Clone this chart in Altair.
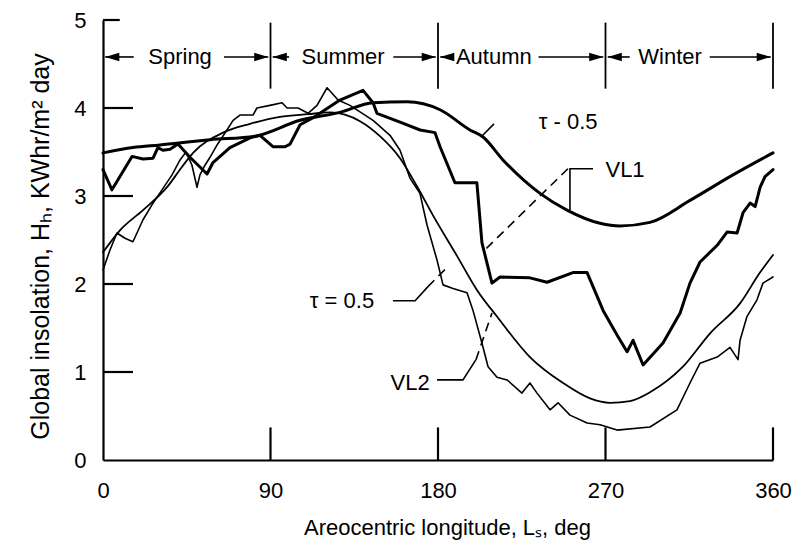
import altair as alt
import pandas as pd

FONT = "Liberation Sans"
BLACK = "#000000"

# ---------------- data (Ls in deg, H in kWhr/m^2 day) ----------------
tau_upper_ls = [0, 16.1, 30.6, 57.5, 81.7, 105.9, 127.3, 145.1, 163.3, 181.1, 197.2, 204.2,
                214.9, 234.8, 249.3, 267.1, 277.8, 293.9, 315.4, 338.5, 360]
tau_upper_h = [3.49, 3.55, 3.58, 3.64, 3.68, 3.86, 3.95, 4.06, 4.07, 3.98, 3.75, 3.67,
               3.41, 3.03, 2.84, 2.69, 2.66, 2.70, 2.95, 3.24, 3.49]

vl1_ls = [0, 4.8, 15.6, 21.5, 26.9, 29.5, 32.2, 36.0, 40.3, 46.7, 52.1, 55.9, 59.1, 68.2, 79.0,
          84.3, 87.0, 91.3, 97.8, 100.5, 105.9, 112.9, 127.3, 139.7, 145.1, 147.2, 159.6, 170.4,
          178.4, 181.1, 189.1, 200.9, 203.6, 209.0, 213.3, 229.4, 238.6, 252.5, 260.1, 263.3,
          268.7, 276.2, 281.6, 284.8, 290.2, 300.9, 310.1, 315.4, 320.8, 330.0, 335.3, 340.7,
          343.9, 347.7, 350.4, 353.1, 355.7, 360]
vl1_h = [3.30, 3.07, 3.45, 3.42, 3.43, 3.55, 3.52, 3.53, 3.59, 3.44, 3.33, 3.25, 3.38, 3.55, 3.66,
         3.69, 3.64, 3.56, 3.56, 3.59, 3.81, 3.89, 4.09, 4.20, 4.06, 3.94, 3.84, 3.75,
         3.72, 3.56, 3.15, 3.15, 2.47, 2.01, 2.08, 2.07, 2.02, 2.13, 2.13, 1.97,
         1.70, 1.42, 1.23, 1.36, 1.08, 1.33, 1.67, 2.01, 2.25, 2.44, 2.59, 2.58,
         2.81, 2.92, 2.88, 3.10, 3.22, 3.30]

tau_lower_ls = [0, 9.1, 21.5, 34.4, 42.4, 48.4, 64.5, 79.0, 95.1, 110.2, 122.0, 138.1, 148.8,
                159.6, 168.7, 177.3, 190.2, 201.0, 211.7, 229.4, 247.2, 261.7, 272.4, 283.2,
                293.9, 311.6, 326.2, 342.3, 353.0, 360]
tau_lower_h = [2.36, 2.61, 2.84, 3.10, 3.33, 3.49, 3.72, 3.82, 3.90, 3.93, 3.95, 3.85, 3.68,
               3.43, 3.11, 2.78, 2.32, 1.93, 1.63, 1.17, 0.875, 0.70, 0.65, 0.67,
               0.77, 1.06, 1.44, 1.78, 2.13, 2.33]

vl2_ls = [0, 3.8, 7.5, 11.8, 16.1, 21.5, 26.3, 31.7, 37.1, 41.4, 44.6, 47.8, 50.5, 52.1, 54.8,
          57.5, 61.3, 66.6, 69.9, 73.6, 80.6, 82.7, 89.7, 96.2, 98.9, 104.8, 110.2, 115.0, 120.4,
          126.3, 132.7, 145.1, 154.2, 159.6, 165.0, 170.3, 174.1, 179.5, 182.7, 188.1, 195.6,
          198.8, 203.6, 206.9, 211.7, 217.1, 225.1, 229.4, 233.2, 240.2, 244.5, 250.9, 260.1,
          267.1, 276.2, 293.9, 308.4, 315.4, 320.8, 330.0, 336.9, 341.2, 342.3, 346.0, 351.4,
          354.6, 360]
vl2_h = [2.16, 2.39, 2.58, 2.52, 2.48, 2.73, 2.90, 3.07, 3.24, 3.41, 3.50, 3.35, 3.10, 3.24, 3.35,
         3.44, 3.58, 3.75, 3.86, 3.92, 3.92, 4.00, 4.03, 4.06, 4.00, 4.00, 3.94, 4.03, 4.23,
         4.09, 4.03, 3.86, 3.69, 3.52, 3.20, 3.03, 2.67, 2.27, 1.99, 1.95, 1.90,
         1.70, 1.33, 1.06, 0.94, 0.91, 0.76, 0.875, 0.76, 0.57, 0.65, 0.51, 0.42,
         0.40, 0.34, 0.375, 0.57, 0.875, 1.10, 1.17, 1.28, 1.14, 1.36, 1.63, 1.82,
         2.01, 2.08]

# axes / tick labels
x_tick_values = [0, 90, 180, 270, 360]
y_tick_values = [0, 1, 2, 3, 4, 5]
inner_y_ticks = [1, 2, 3, 4, 5]
inner_y_len = [16.1, 16.1, 16.1, 16.1, 9.0]
inner_x_ticks = [90, 180, 270, 360]
inner_x_len = 0.37

# seasons
season_names = ["Spring", "Summer", "Autumn", "Winter"]
season_word_ls = [41.4, 129.0, 210.0, 304.7]
season_end = [90, 180, 270, 360]
season_h = 4.58
divider_h = [4.22, 4.97]
# arrow tips (at the dividers) and the ends of their shafts
arrow_left_tip = [1.2, 91.2, 181.2, 271.2]
arrow_left_shaft_end = [16.5, 100.0, 186.5, 283.0]
arrow_right_tip = [88.8, 178.8, 268.8, 358.8]
arrow_right_shaft_start = [65.0, 156.0, 234.0, 326.0]

# curve annotations
label_text = ["τ - 0.5", "VL1", "τ = 0.5", "VL2"]
label_ls = [249.9, 280.5, 128.4, 165.0]
label_h = [3.84, 3.30, 1.81, 0.875]

solid_leader_id = ["a", "a", "b", "b", "b", "c", "c", "c", "d", "d", "d"]
solid_leader_ls = [203.1, 210.1, 263.3, 250.9, 250.9, 155.8, 167.7, 174.6, 179.5, 193.4, 200.4]
solid_leader_h = [3.67, 3.82, 3.31, 3.31, 2.84, 1.81, 1.81, 1.97, 0.91, 0.91, 1.14]
dashed_leader_id = ["b", "b", "c", "c", "d", "d"]
dashed_leader_ls = [249.8, 205.3, 174.6, 185.4, 200.4, 209.0]
dashed_leader_h = [3.31, 2.39, 1.97, 2.20, 1.14, 1.67]

# ---------------- chart ----------------
xs = alt.Scale(domain=[0, 360], nice=False, zero=False)
ys = alt.Scale(domain=[0, 5], nice=False, zero=True)

x_axis = alt.Axis(values=x_tick_values, title="Areocentric longitude, Lₛ, deg", ticks=False,
                  grid=False, domainColor=BLACK, domainWidth=2.2, labelFont=FONT,
                  labelFontSize=22, labelColor=BLACK, labelPadding=20, labelFlush=False,
                  labelOverlap=False, titleFont=FONT, titleFontSize=22, titleFontWeight="normal",
                  titleColor=BLACK, titleX=344, titleY=67, titleBaseline="middle",
                  titleAlign="center")
y_axis = alt.Axis(values=y_tick_values, title="Global insolation, Hₕ, KWhr/m² day", ticks=False,
                  grid=False, domainColor=BLACK, domainWidth=2.2, labelFont=FONT,
                  labelFontSize=22, labelColor=BLACK, labelPadding=17, labelOverlap=False,
                  titleFont=FONT, titleFontSize=25, titleFontWeight="normal", titleColor=BLACK,
                  titleX=-63, titleY=226, titleBaseline="middle", titleAlign="center",
                  titleAngle=270)


def X(field):
    return alt.X(f"{field}:Q", scale=xs, axis=x_axis)


def Y(field):
    return alt.Y(f"{field}:Q", scale=ys, axis=y_axis)


def curve(ls, h, width, interp):
    df = pd.DataFrame({"Ls": ls, "H": h, "i": list(range(len(ls)))})
    return alt.Chart(df).mark_line(color=BLACK, strokeWidth=width, interpolate=interp,
                                   strokeJoin="round", strokeCap="round").encode(
        x=X("Ls"), y=Y("H"), order="i:Q")


layers = []
layers.append(curve(tau_upper_ls, tau_upper_h, 3.0, "monotone"))
layers.append(curve(vl1_ls, vl1_h, 3.0, "linear"))
layers.append(curve(tau_lower_ls, tau_lower_h, 1.8, "monotone"))
layers.append(curve(vl2_ls, vl2_h, 1.6, "linear"))

# inward ticks
ytk = pd.DataFrame({"y": inner_y_ticks, "x0": [0] * len(inner_y_ticks), "x1": inner_y_len})
layers.append(alt.Chart(ytk).mark_rule(color=BLACK, strokeWidth=2.2).encode(
    x=X("x0"), x2="x1:Q", y=Y("y")))
xtk = pd.DataFrame({"x": inner_x_ticks, "y0": [0] * len(inner_x_ticks),
                    "y1": [inner_x_len] * len(inner_x_ticks)})
layers.append(alt.Chart(xtk).mark_rule(color=BLACK, strokeWidth=2.2).encode(
    x=X("x"), y=Y("y0"), y2="y1:Q"))

# season dividers, arrows and labels
div = pd.DataFrame({"x": season_end, "y0": [divider_h[0]] * 4, "y1": [divider_h[1]] * 4})
layers.append(alt.Chart(div).mark_rule(color=BLACK, strokeWidth=1.8).encode(
    x=X("x"), y=Y("y0"), y2="y1:Q"))
seas = pd.DataFrame({"name": season_names, "ls": season_word_ls, "h": [season_h] * 4,
                     "lt": arrow_left_tip, "ls_end": arrow_left_shaft_end,
                     "rt": arrow_right_tip, "rs": arrow_right_shaft_start})
layers.append(alt.Chart(seas).mark_text(font=FONT, fontSize=22, color=BLACK, align="center",
                                        baseline="middle").encode(
    x=X("ls"), y=Y("h"), text="name:N"))
layers.append(alt.Chart(seas).mark_rule(color=BLACK, strokeWidth=1.6).encode(
    x=X("lt"), x2="ls_end:Q", y=Y("h")))
layers.append(alt.Chart(seas).mark_rule(color=BLACK, strokeWidth=1.6).encode(
    x=X("rs"), x2="rt:Q", y=Y("h")))
layers.append(alt.Chart(seas).mark_point(
    shape="M -1 0 L 1 -0.6 L 1 0.6 Z", size=200, filled=True, color=BLACK, opacity=1,
    xOffset=7).encode(x=X("lt"), y=Y("h")))
layers.append(alt.Chart(seas).mark_point(
    shape="M 1 0 L -1 -0.6 L -1 0.6 Z", size=200, filled=True, color=BLACK, opacity=1,
    xOffset=-7).encode(x=X("rt"), y=Y("h")))

# annotations
ann = pd.DataFrame({"t": label_text, "ls": label_ls, "h": label_h})
layers.append(alt.Chart(ann).mark_text(font=FONT, fontSize=22, color=BLACK, align="center",
                                       baseline="middle").encode(
    x=X("ls"), y=Y("h"), text="t:N"))
sl = pd.DataFrame({"g": solid_leader_id, "ls": solid_leader_ls, "h": solid_leader_h,
                   "i": list(range(len(solid_leader_id)))})
layers.append(alt.Chart(sl).mark_line(color=BLACK, strokeWidth=1.6).encode(
    x=X("ls"), y=Y("h"), detail="g:N", order="i:Q"))
dl = pd.DataFrame({"g": dashed_leader_id, "ls": dashed_leader_ls, "h": dashed_leader_h,
                   "i": list(range(len(dashed_leader_id)))})
layers.append(alt.Chart(dl).mark_line(color=BLACK, strokeWidth=1.6, strokeDash=[9, 6]).encode(
    x=X("ls"), y=Y("h"), detail="g:N", order="i:Q"))

chart = alt.layer(*layers).properties(
    width=670, height=440,
    autosize=alt.AutoSizeParams(type="none"),
    padding={"left": 95, "top": 12, "right": 19, "bottom": 80},
    background="white",
).configure_view(stroke=None)

chart.save("out.html", embed_options={"renderer": "svg", "actions": False})
